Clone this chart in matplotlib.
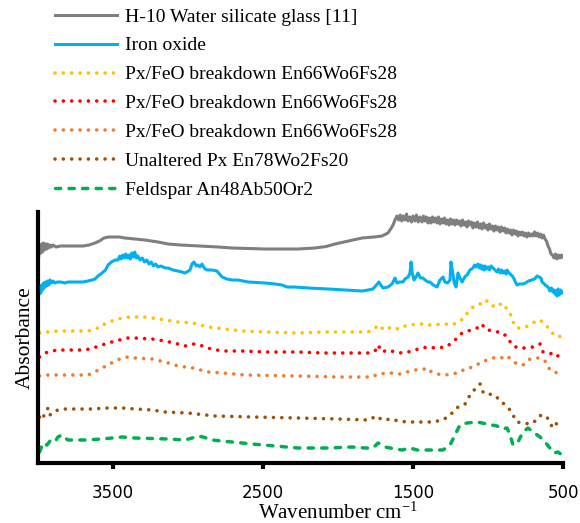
import matplotlib
matplotlib.use("Agg")
import matplotlib.pyplot as plt

plt.rcParams['mathtext.default'] = 'regular'

# spectra, offset absorbance (arbitrary units), wavenumber in cm-1
h10_wn = [3995, 3988, 3982, 3976, 3970, 3964, 3957, 3950, 3943, 3936, 3928, 3920, 3910, 3900, 3880,
          3850, 3800, 3750, 3700, 3660, 3620, 3590, 3560, 3530, 3500, 3460, 3420, 3350, 3287, 3200,
          3133, 3050, 2920, 2800, 2707, 2600, 2487, 2380, 2267, 2153, 2080, 2020, 1930, 1840, 1760,
          1707, 1667, 1645, 1633, 1620, 1607, 1595, 1585, 1575, 1565, 1553, 1543, 1533, 1520, 1510,
          1500, 1487, 1477, 1465, 1453, 1440, 1430, 1420, 1410, 1400, 1390, 1380, 1370, 1360, 1350,
          1340, 1330, 1320, 1310, 1300, 1290, 1280, 1270, 1260, 1250, 1240, 1230, 1220, 1210, 1200,
          1190, 1180, 1170, 1160, 1150, 1140, 1130, 1120, 1110, 1100, 1090, 1080, 1070, 1060, 1050,
          1040, 1030, 1020, 1010, 1000, 990, 980, 970, 960, 950, 940, 930, 920, 910, 900, 890, 880,
          870, 860, 850, 840, 830, 820, 810, 800, 790, 780, 770, 760, 750, 740, 730, 720, 710, 700,
          690, 680, 670, 660, 650, 640, 630, 620, 610, 600, 590, 580, 570, 560, 550, 540, 530, 520,
          510, 505]
h10_ab = [207, 217, 210, 219, 211, 220, 213, 219, 214, 219, 215, 218, 216, 218, 216,
          217, 217, 217, 217, 218, 220, 222, 225, 226, 226, 226, 225, 224, 223, 221,
          219, 218, 217, 216, 215, 214.5, 214, 214, 214, 215, 216.5, 219, 222, 225, 226,
          227, 230, 235, 238, 243, 247, 243, 248, 242, 247, 243, 249, 242, 246, 241,
          247, 242, 248, 241, 246, 241, 247, 242, 246, 240, 245, 240, 246, 241, 245,
          240, 246, 239, 244, 240, 245, 239, 243, 238, 244, 239, 243, 238, 243, 239,
          242, 237, 243, 238, 241, 236, 242, 238, 241, 235, 240, 236, 241, 235, 239,
          234, 240, 235, 238, 233, 239, 234, 237, 232, 237, 233, 236, 231, 236, 232, 235, 230,
          234, 230, 233, 228, 233, 229, 232, 227, 231, 228, 231, 227, 230, 226, 230, 227, 229, 227,
          231, 227, 230, 226, 229, 225, 228, 224, 222, 217, 214, 209, 208, 205, 209, 204, 208, 205,
          208, 206]

iron_wn = [3995, 3988, 3982, 3976, 3970, 3963, 3957, 3950, 3943, 3936, 3928, 3920, 3910, 3900, 3887,
           3870, 3850, 3820, 3800, 3750, 3700, 3667, 3640, 3620, 3600, 3573, 3550, 3533, 3510, 3487,
           3467, 3455, 3445, 3435, 3425, 3415, 3405, 3395, 3385, 3375, 3365, 3355, 3345, 3335, 3320,
           3305, 3290, 3275, 3260, 3245, 3230, 3215, 3200, 3180, 3153, 3133, 3100, 3067, 3040, 3020,
           3007, 2987, 2973, 2960, 2945, 2933, 2920, 2907, 2887, 2870, 2840, 2807, 2773, 2740, 2707,
           2667, 2600, 2487, 2420, 2373, 2340, 2287, 2200, 2067, 1950, 1840, 1800, 1767, 1750, 1727,
           1715, 1700, 1667, 1640, 1620, 1607, 1590, 1567, 1553, 1533, 1520, 1513, 1505, 1493, 1480,
           1467, 1450, 1433, 1420, 1400, 1387, 1365, 1340, 1320, 1300, 1287, 1270, 1253, 1247, 1235,
           1225, 1213, 1200, 1187, 1173, 1155, 1140, 1120, 1100, 1090, 1080, 1067, 1058, 1050, 1042,
           1035, 1027, 1020, 1010, 1000, 990, 980, 967, 955, 940, 930, 920, 910, 900, 890, 880, 873,
           860, 845, 833, 820, 807, 790, 767, 750, 730, 710, 690, 673, 660, 647, 640, 625, 610, 600,
           587, 577, 567, 560, 553, 547, 540, 533, 525, 515, 507]
iron_ab = [168, 174, 170, 178, 173, 180, 175, 181, 177, 182, 178, 183, 180, 182, 180,
           181, 181, 180, 181, 181, 181, 182, 183, 184, 187, 190, 193, 198, 201, 203,
           203, 207, 204, 208, 205, 209, 205, 208, 204, 210, 206, 211, 205, 207, 203,
           205, 201, 203, 199, 201, 197, 199, 196, 197, 195, 195, 193, 192, 191, 190,
           191, 193, 199, 201, 197, 198, 196, 199, 194, 193, 193, 192, 186, 184, 183,
           183, 181, 180, 179, 178, 176, 176, 175, 174, 173, 172, 173, 174, 177, 181,
           178, 175, 176, 179, 185, 180, 181, 181, 184, 186, 190, 201, 190, 183, 186,
           190, 185, 185, 183, 181, 181, 178, 176, 183, 186, 181, 180, 183, 201, 190,
           180, 176, 190, 185, 181, 186, 188, 193, 195, 198, 196, 199, 195, 198, 194,
           197, 193, 197, 194, 196, 193, 197, 195, 193, 191, 194, 190, 193, 190, 192, 189, 193,
           190, 188, 186, 182, 178, 179, 179, 180, 182, 183, 184, 187, 186, 185, 181, 179, 177, 176,
           172, 175, 171, 173, 169, 172, 167, 174, 168, 173, 170]

px1_wn = [3990, 3970, 3933, 3867, 3800, 3700, 3667, 3620, 3580, 3567, 3530, 3487, 3440, 3387, 3333,
          3290, 3240, 3153, 3067, 2967, 2867, 2753, 2640, 2487, 2267, 2100, 1900, 1800, 1753, 1727,
          1693, 1640, 1600, 1553, 1473, 1420, 1387, 1287, 1240, 1200, 1167, 1133, 1100, 1053, 1013,
          987, 940, 907, 873, 853, 833, 807, 767, 720, 680, 653, 620, 587, 553, 530, 507]
px1_ab = [130, 131, 131, 132, 132, 132, 132, 134, 136, 138, 141, 143, 145, 146, 146,
          146, 145, 143, 141, 140, 136, 134, 132, 131, 130, 131, 131, 131, 135, 138,
          133, 136, 134, 137, 139, 139, 138, 139, 138, 141, 144, 151, 156, 159, 163,
          158, 156, 160, 154, 150, 141, 135, 135, 138, 142, 143, 139, 133, 127, 127, 126]

px2_wn = [3990, 3953, 3907, 3867, 3780, 3687, 3633, 3573, 3487, 3400, 3353, 3240, 3153, 3067, 3020,
          2967, 2920, 2873, 2773, 2640, 2487, 2267, 2100, 1900, 1800, 1753, 1733, 1707, 1667, 1620,
          1573, 1533, 1487, 1440, 1400, 1353, 1280, 1233, 1200, 1173, 1133, 1073, 1040, 1020, 973,
          933, 900, 867, 840, 800, 753, 700, 653, 633, 587, 540, 520, 507]
px2_ab = [106, 110, 112, 113, 113, 113, 115, 118, 122, 125, 125, 124, 122, 119, 117,
          119, 118, 115, 112, 112, 111, 111, 110, 110, 110, 112, 118, 111, 113, 111,
          110, 111, 113, 115, 116, 115, 116, 121, 126, 130, 132, 135, 139, 134, 132,
          131, 130, 125, 118, 115, 115, 116, 119, 111, 110, 106, 110, 110]

px3_wn = [3990, 3933, 3800, 3667, 3633, 3587, 3533, 3487, 3440, 3400, 3353, 3240, 3153, 3067, 2967,
          2867, 2767, 2620, 2267, 2000, 1773, 1733, 1640, 1587, 1540, 1487, 1420, 1400, 1387, 1340,
          1287, 1233, 1187, 1153, 1100, 1053, 1007, 967, 933, 900, 873, 840, 807, 767, 720, 673,
          653, 620, 600, 580, 553, 540, 507]
px3_ab = [87, 88, 88, 88, 90, 94, 98, 102, 105, 106, 105, 104, 101, 97, 95,
          91, 90, 88, 87, 86, 86, 89, 90, 89, 91, 93, 94, 91, 92, 89,
          88, 89, 91, 94, 96, 100, 103, 105, 106, 105, 107, 103, 99, 98, 104, 105,
          105, 102, 96, 92, 91, 90, 89]

upx_wn = [3990, 3973, 3953, 3933, 3920, 3900, 3867, 3820, 3750, 3650, 3533, 3440, 3350, 3240, 3153,
          3000, 2820, 2573, 2267, 2000, 1800, 1740, 1707, 1640, 1600, 1540, 1467, 1400, 1367, 1307,
          1267, 1233, 1200, 1153, 1133, 1107, 1087, 1053, 1033, 1000, 967, 933, 900, 853, 807, 767,
          720, 673, 647, 607, 587, 567, 540, 507]
upx_ab = [46, 43, 50, 55, 48, 51, 53, 54, 54, 54, 55, 55, 54, 53, 51,
          50, 47, 46, 45, 44, 43, 47, 43, 44, 42, 41, 41, 41, 41, 43,
          46, 51, 56, 59, 65, 70, 74, 79, 71, 71, 66, 65, 60, 53, 41, 40,
          39, 43, 48, 46, 40, 35, 40, 36]

fsp_wn = [3990, 3967, 3940, 3920, 3887, 3867, 3840, 3820, 3800, 3687, 3573, 3440, 3353, 3133, 3020,
          2973, 2933, 2900, 2840, 2707, 2573, 2420, 2267, 2067, 1907, 1820, 1767, 1733, 1687, 1620,
          1573, 1520, 1473, 1400, 1300, 1253, 1220, 1187, 1140, 1073, 1007, 940, 907, 873, 853, 833,
          800, 767, 733, 700, 653, 620, 587, 560, 533, 507]
fsp_ab = [11, 20, 18, 22, 21, 26, 28, 25, 23, 23, 24, 26, 25, 24, 23,
          25, 27, 26, 23, 21, 19, 17, 15, 15, 16, 15, 15, 20, 16, 14,
          13, 15, 13, 13, 13, 18, 28, 38, 40, 41, 39, 37, 34, 35, 28, 18,
          21, 31, 35, 31, 26, 21, 15, 10, 11, 8]

labels = ['H-10 Water silicate glass [11]', 'Iron oxide',
          'Px/FeO breakdown En66Wo6Fs28', 'Px/FeO breakdown En66Wo6Fs28',
          'Px/FeO breakdown En66Wo6Fs28', 'Unaltered Px En78Wo2Fs20',
          'Feldspar An48Ab50Or2']
colors = ['#7F7F7F', '#00B0F0', '#FFC000', '#FF0000', '#ED7D31', '#9C5209', '#00B050']

fig = plt.figure(figsize=(5.8, 5.23), dpi=100)
ax = fig.add_axes([38/580, 60/523, 525/580, 251/523])

dot = (0, (0.01, 2.3))
dash = (0, (1.5, 2.4))
ax.plot(h10_wn, h10_ab, color=colors[0], lw=2.2, label=labels[0])
ax.plot(iron_wn, iron_ab, color=colors[1], lw=2.2, label=labels[1])
ax.plot(px1_wn, px1_ab, color=colors[2], lw=2.6, ls=dot, dash_capstyle='round', label=labels[2])
ax.plot(px2_wn, px2_ab, color=colors[3], lw=2.6, ls=dot, dash_capstyle='round', label=labels[3])
ax.plot(px3_wn, px3_ab, color=colors[4], lw=2.6, ls=dot, dash_capstyle='round', label=labels[4])
ax.plot(upx_wn, upx_ab, color=colors[5], lw=2.6, ls=dot, dash_capstyle='round', label=labels[5])
ax.plot(fsp_wn, fsp_ab, color=colors[6], lw=2.5, ls=dash, dash_capstyle='round', label=labels[6])

ax.set_xlim(4000, 500)
ax.set_ylim(0, 251)
ax.set_xticks([3500, 2500, 1500, 500])
ax.set_yticks([])
for s in ['top', 'right']:
    ax.spines[s].set_visible(False)
for s in ['left', 'bottom']:
    ax.spines[s].set_linewidth(3)
ax.tick_params(axis='x', direction='out', length=4, width=3, labelsize=12, pad=11)

ax.set_xlabel('Wavenumber cm$^{-1}$', family='Liberation Serif', fontsize=15)
ax.xaxis.set_label_coords((338 - 38) / 525, (463 - 503) / 251)
ax.set_ylabel('Absorbance', family='Liberation Serif', fontsize=15.5, labelpad=2)

fig.legend(loc='upper left', bbox_to_anchor=(55/580, 1 - 8/523), frameon=False,
           prop={'family': 'Liberation Serif', 'size': 14}, handlelength=3.2,
           handletextpad=0.4, labelspacing=0.58, borderpad=0, borderaxespad=0)

fig.savefig('out.png', dpi=100)
